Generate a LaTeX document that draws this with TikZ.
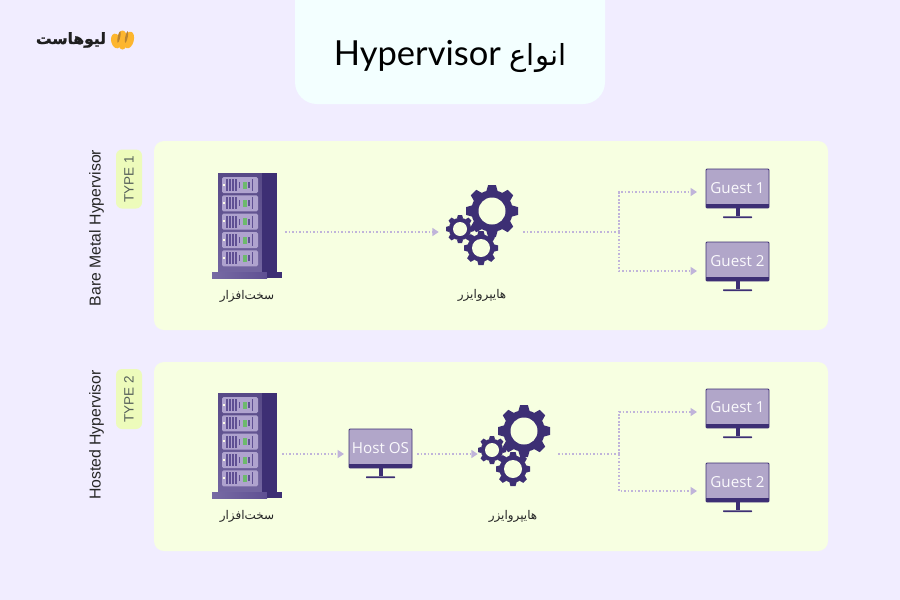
\documentclass[tikz,border=0pt]{standalone}
\usepackage{fontspec}
\setmainfont{Open Sans}
\newfontfamily\titlefont{Lato}
\newfontfamily\sidefont{Liberation Sans}
\newfontfamily\arabicfont[Script=Arabic]{DejaVu Sans}
\newfontfamily\logofont[Script=Arabic,FakeBold=1.2]{DejaVu Sans Bold}
\TeXXeTstate=1
\usetikzlibrary{arrows.meta}
\definecolor{pagebg}{HTML}{F1EDFF}
\definecolor{titlebg}{HTML}{F3FFFF}
\definecolor{panelbg}{HTML}{F7FFE1}
\definecolor{tagbg}{HTML}{EDFBBB}
\definecolor{tagtext}{HTML}{55605A}
\definecolor{darkpurple}{HTML}{3D2F74}
\definecolor{midpurple}{HTML}{5F5093}
\definecolor{lilac}{HTML}{C0B4DA}
\definecolor{unitfill}{HTML}{AFA3CE}
\definecolor{logoyellow}{HTML}{FDB62F}
\definecolor{logobrown}{HTML}{B98331}
\tikzset{
    panel/.style={fill=panelbg,rounded corners=10pt},
    typetag/.style={fill=tagbg,rounded corners=6pt,minimum width=59pt,minimum height=26pt,inner sep=0pt,rotate=90,text=tagtext,font=\sidefont\fontsize{13.5}{16}\selectfont},
    sidelabel/.style={rotate=90,inner sep=0pt,text=black!85,font=\sidefont\fontsize{15.8}{18}\selectfont},
    farsilabel/.style={inner sep=0pt,text=black!85,font=\arabicfont\fontsize{12}{14}\selectfont},
    screen/.style={fill=lilac!92!black,draw=darkpurple,line width=0.8pt,rounded corners=1pt,minimum width=63pt,minimum height=39pt,inner sep=0pt,text=white!92!lilac,font=\fontsize{15.2}{17}\selectfont},
    holder/.style={inner sep=0pt,minimum height=1pt},
    flow/.style={color=lilac,line width=1.8pt,dash pattern=on 1.7pt off 1.8pt},
    flowtip/.style={flow,-{Triangle[length=6.5pt,width=8pt]}},
    pics/gear/.style args={#1/#2}{code={
        \fill[darkpurple] (0,0) circle ({#1*0.80});
        \foreach \ang in {0,45,...,315}
            \fill[darkpurple,rotate=\ang] ({-#1*0.22},{-#1*0.75}) -- ({-#1*0.15},{-#1}) -- ({#1*0.15},{-#1}) -- ({#1*0.22},{-#1*0.75}) -- cycle;
        \fill[panelbg] (0,0) circle (#2);
    }},
}
\newcommand{\monitor}[4]{%
    \node[screen] (#1) at (#2,#3) {#4};
    \fill[darkpurple] (#1.south west) ++(0,-4) rectangle (#1.south east);
    \fill[darkpurple] (#1.south) ++(-2,0) rectangle ++(4,8);
    \fill[darkpurple,rounded corners=0.5pt] (#1.south) ++(-14.5,8) rectangle ++(29,1.6);
}
\newcommand{\serverrack}[1]{%
    \begin{scope}[shift={(0,#1)}]
        \shade[top color=midpurple!92!black,bottom color=midpurple!88!white] (218,173) rectangle (262,272);
        \fill[darkpurple] (262,173) rectangle (277,272);
        \shade[left color=midpurple!85!white,right color=midpurple] (212,272) rectangle (267,278);
        \fill[darkpurple] (267,272) rectangle (282,278);
        \foreach \uy in {177,195.3,213.6,232,250.3} {
            \fill[unitfill,rounded corners=1.5pt] (222,\uy) rectangle (258,\uy+16);
            \fill[white!90!yellow] (223.2,\uy+6.5) rectangle (225.2,\uy+8.8);
            \foreach \ux in {227,230,233,236,252.5}
                \fill[midpurple] (\ux-0.9,\uy+2) rectangle (\ux+0.9,\uy+14);
            \foreach \ux in {239.5,249}
                \fill[midpurple] (\ux-0.9,\uy+5) rectangle (\ux+0.9,\uy+11);
            \fill[green!35!gray!85!white] (243,\uy+4.5) rectangle (246.5,\uy+11.5);
        }
    \end{scope}
}
\begin{document}
\begin{tikzpicture}[x=1pt,y=-1pt]
    \useasboundingbox (0,0) rectangle (900,600);
    \clip (0,0) rectangle (900,600);
    \fill[pagebg] (0,0) rectangle (900,600);
    \fill[titlebg,rounded corners=22pt] (295,-30) rectangle (605,104);
    \node[inner sep=0pt] (title) at (450,56) {\titlefont\fontsize{34.5}{38}\selectfont Hypervisor {\arabicfont\fontsize{29}{32}\selectfont\beginR انواع\endR}};

    % logo
    \node[inner sep=0pt,text=black!88,font=\logofont\fontsize{15.5}{18}\selectfont] (logo) at (71,40) {\beginR لیوهاست\endR};
    \fill[logoyellow,rotate around={14:(116,41)}] (116,41) ellipse (4.8 and 7.5);
    \fill[logoyellow,rotate around={-14:(129,40)}] (129,40) ellipse (4.8 and 8.5);
    \fill[logoyellow] (122.5,40) ellipse (5 and 9.5);
    \fill[logobrown,rotate around={-12:(119,37)}] (119,37) ellipse (1.2 and 6);
    \fill[logobrown,rotate around={-12:(126.5,37)}] (126.5,37) ellipse (1.2 and 6);

    % type 1
    \fill[panel] (154,141) rectangle (828,330);
    \node[typetag] (tagone) at (129,179) {TYPE 1};
    \node[sidelabel] (sideone) at (96.5,228) {Bare Metal Hypervisor};
    \serverrack{0}
    \node[holder,minimum width=74pt] (rackone) at (248,232) {};
    \node[farsilabel] (hwone) at (247,296) {\beginR سخت‌افزار\endR};
    \pic at (492,211) {gear={26/13.5}};
    \pic at (460,229) {gear={14/7}};
    \pic at (481,248) {gear={17/9}};
    \node[holder,minimum width=84pt] (gearsone) at (481,232) {};
    \node[farsilabel] (hvone) at (482,295) {\beginR هایپروایزر\endR};
    \monitor{guestaone}{737.5}{188.5}{\raisebox{0.8pt}{Guest 1}}
    \monitor{guestbone}{737.5}{261.5}{Guest 2}
    \coordinate (branchone) at (619,232);
    \coordinate (inaone) at (697,192);
    \coordinate (inbone) at (697,271);
    \draw[flowtip] (rackone.east) -- (gearsone.west);
    \draw[flow] (gearsone.east) -- (branchone);
    \draw[flowtip] (branchone) |- (inaone);
    \draw[flowtip] (branchone) |- (inbone);

    % type 2
    \fill[panel] (154,362) rectangle (828,551);
    \node[typetag,minimum width=60pt] (tagtwo) at (129,399) {TYPE 2};
    \node[sidelabel] (sidetwo) at (96.5,435) {Hosted Hypervisor};
    \serverrack{220}
    \node[holder,minimum width=68pt] (racktwo) at (248,454) {};
    \node[farsilabel] (hwtwo) at (247,516) {\beginR سخت‌افزار\endR};
    \monitor{hostos}{380.5}{448.5}{Host OS}
    \coordinate (hostin) at (344,454);
    \coordinate (hostout) at (417,454);
    \pic at (524,431) {gear={26/13.5}};
    \pic at (492,450) {gear={14/7}};
    \pic at (513,469) {gear={17/9}};
    \node[holder,minimum width=80pt] (gearstwo) at (518,454) {};
    \node[farsilabel] (hvtwo) at (513,516) {\beginR هایپروایزر\endR};
    \monitor{guestatwo}{737.5}{408.5}{\raisebox{2.8pt}{Guest 1}}
    \monitor{guestbtwo}{737.5}{482.5}{\raisebox{0.8pt}{Guest 2}}
    \coordinate (branchtwo) at (619,454);
    \coordinate (inatwo) at (697,412);
    \coordinate (inbtwo) at (697,491);
    \draw[flowtip] (racktwo.east) -- (hostin);
    \draw[flowtip] (hostout) -- (gearstwo.west);
    \draw[flow] (gearstwo.east) -- (branchtwo);
    \draw[flowtip] (branchtwo) |- (inatwo);
    \draw[flowtip] (branchtwo) |- (inbtwo);
\end{tikzpicture}
\end{document}
